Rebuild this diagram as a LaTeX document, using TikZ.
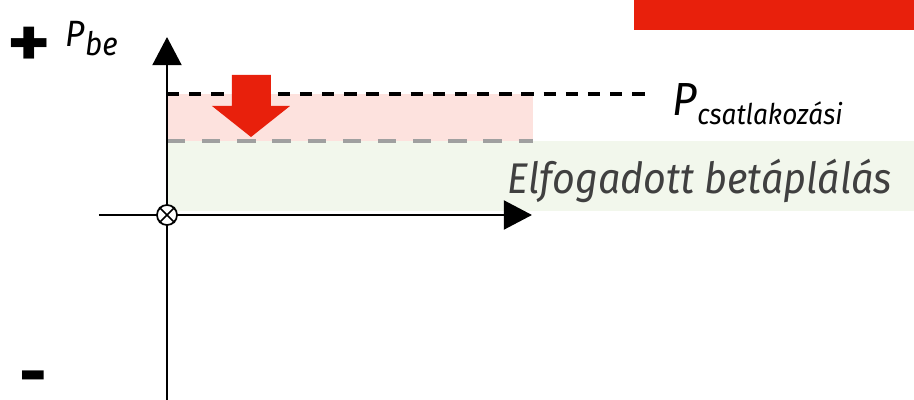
\documentclass[tikz,border=0pt]{standalone}
\usepackage{fontspec}
\setmainfont{Fira Sans}[FakeStretch=0.92]
\usetikzlibrary{arrows.meta}
\definecolor{redmark}{HTML}{E8200C}
\definecolor{pinkband}{HTML}{FDE2DE}
\definecolor{greenband}{HTML}{F2F7EC}
\definecolor{grayline}{HTML}{A0A0A0}
\definecolor{labelgray}{HTML}{404040}

\begin{document}
\begin{tikzpicture}[x=0.01cm, y=-0.01cm,
  axis/.style={line width=0.75pt, -{Triangle[length=8pt, width=8.2pt]}},
  limitline/.style={dashed, line width=1pt, dash pattern=on 3.5pt off 2.8pt},
  acceptline/.style={dashed, grayline, line width=1.1pt, dash pattern=on 5.2pt off 4.8pt},
  sign/.style={anchor=mid, inner sep=0pt},
  lbl/.style={anchor=base west, inner sep=0pt}]

  \useasboundingbox (0,0) rectangle (914,400);

  % Bands
  \fill[greenband] (167,141) rectangle (914,211);
  \fill[pinkband] (167,94) rectangle (533,141);
  \fill[redmark] (634,0) rectangle (914,30);

  % Limits
  \coordinate (pc0) at (167,94);
  \coordinate (pc1) at (652,94);
  \coordinate (ac0) at (167,141);
  \coordinate (ac1) at (533,141);
  \draw[limitline] (pc0) -- (pc1);
  \draw[acceptline] (ac0) -- (ac1);

  % Down arrow
  \fill[redmark] (232,75) -- (271,75) -- (271,106) -- (290,106) -- (251,137)
    -- (212,106) -- (232,106) -- cycle;

  % Axes
  \coordinate (ytop) at (167,37);
  \coordinate (ybot) at (167,400);
  \coordinate (xleft) at (99,215);
  \coordinate (xright) at (532,215);
  \draw[axis] (ybot) -- (ytop);
  \draw[axis] (xleft) -- (xright);
  \node[draw, circle, fill=white, inner sep=0pt, minimum size=0.2cm, line width=0.5pt] (O) at (167,215) {};
  \draw[line width=0.5pt] (O.north west) -- (O.south east) (O.north east) -- (O.south west);

  % Labels
  \node[sign, font=\fontsize{22}{22}\selectfont\mdseries] (plus) at (29,58) {\scalebox{1.15}[0.95]{\textbf{+}}};
  \node[sign, font=\fontsize{21}{21}\selectfont\bfseries] (minus) at (33,389) {-};
  \node[lbl, font=\fontsize{10.4}{12}\selectfont\itshape] (pbe) at (65,47)
    {P\raisebox{-2.3pt}{\fontsize{9.2}{10}\selectfont be}};
  \node[lbl, font=\fontsize{13.2}{15}\selectfont\itshape] (pcsat) at (672,115)
    {P\raisebox{-2.8pt}{\fontsize{8.1}{10}\selectfont csatlakozási}};
  \node[lbl, font=\fontsize{12.2}{14}\selectfont\itshape, text=labelgray] (accepted) at (507,193)
    {Elfogadott betáplálás};

\end{tikzpicture}
\end{document}
